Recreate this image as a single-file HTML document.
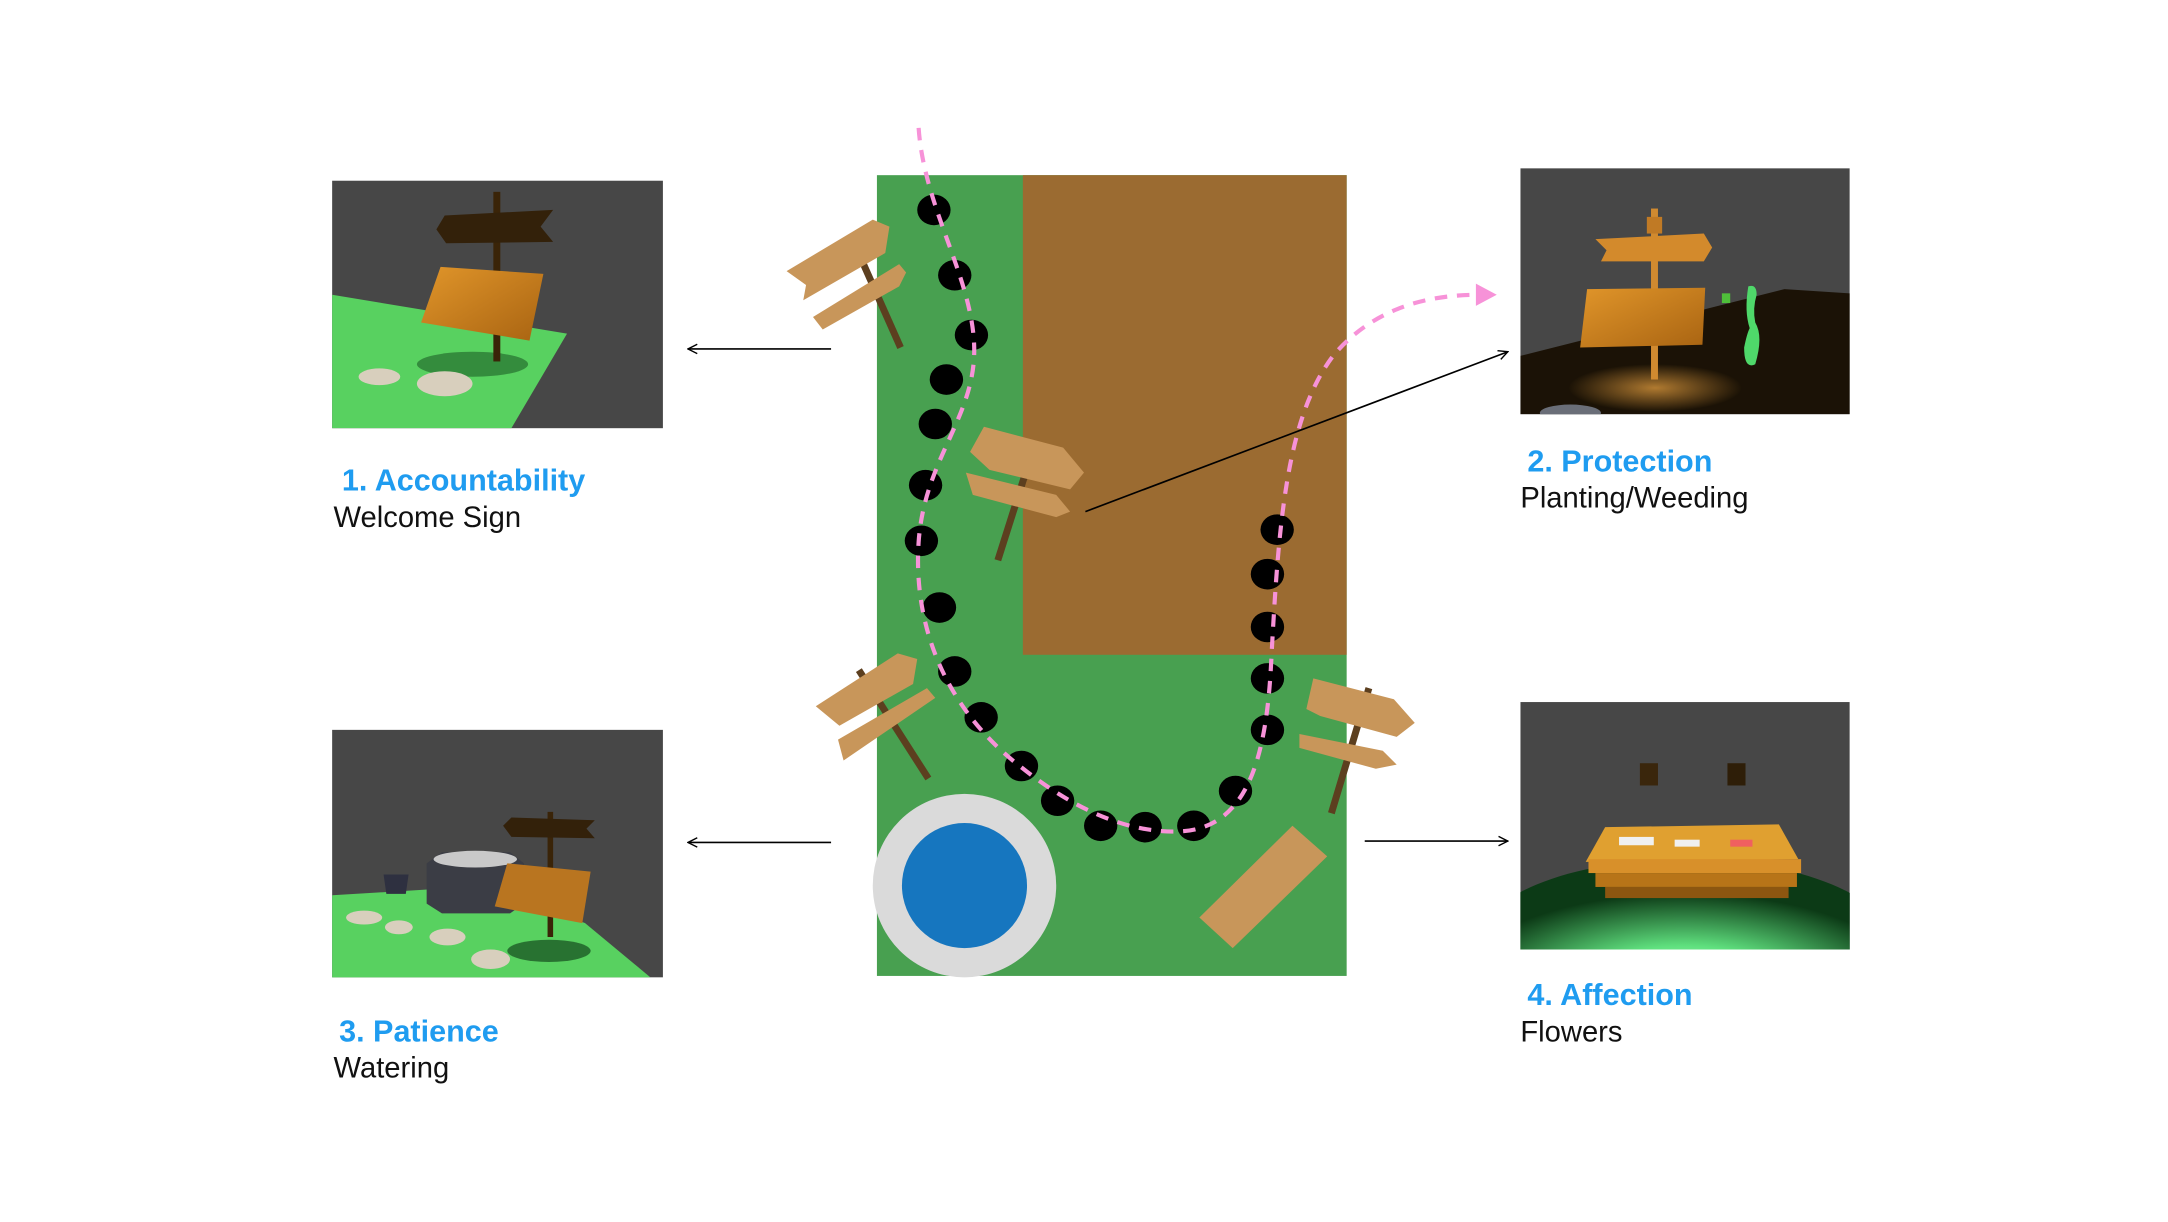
<!DOCTYPE html>
<html><head><meta charset="utf-8"><style>
html,body{margin:0;padding:0;background:#fff}
svg{display:block}
text{font-family:"Liberation Sans",sans-serif}
.t{fill:#1f9cf0;font-weight:bold;font-size:22px}
.s{fill:#111;font-size:21px}
</style></head><body>
<svg width="2168" height="1222" viewBox="0 0 1560 879" preserveAspectRatio="none" xmlns="http://www.w3.org/2000/svg">
<defs>
<marker id="ah" viewBox="0 0 10 10" refX="9" refY="5" markerWidth="7" markerHeight="7" orient="auto"><path d="M1,1 L9,5 L1,9" fill="none" stroke="#000" stroke-width="1.2"/></marker>
<radialGradient id="spot" cx="0.5" cy="0.5" r="0.5"><stop offset="0" stop-color="#b07a30"/><stop offset="1" stop-color="#1c1306"/></radialGradient>
<radialGradient id="glow" cx="0.5" cy="0.75" r="0.55"><stop offset="0" stop-color="#d8ffe4"/><stop offset="0.45" stop-color="#5fe07e"/><stop offset="1" stop-color="#0c3a16"/></radialGradient>
<linearGradient id="board" x1="0" y1="0" x2="1" y2="1"><stop offset="0" stop-color="#e0952a"/><stop offset="1" stop-color="#a96412"/></linearGradient>
<clipPath id="c4"><rect x="1094" y="505" width="237" height="178"/></clipPath>
<clipPath id="c2"><rect x="1094" y="121" width="237" height="177"/></clipPath>
</defs>

<g>
<rect x="239" y="130" width="238" height="178" fill="#474747"/>
<polygon points="239,212 408,240 368,308 239,308" fill="#58d160"/>
<ellipse cx="340" cy="262" rx="40" ry="9" fill="#2c7a35" opacity="0.8"/>
<rect x="355" y="138" width="5" height="122" fill="#3a2408"/>
<polygon points="314,165 320,155 398,151 389,163 398,174 321,175" fill="#33210a"/>
<polygon points="317,192 391,197 381,245 303,232" fill="url(#board)"/>
<ellipse cx="273" cy="271" rx="15" ry="6" fill="#d8cfbd"/>
<ellipse cx="320" cy="276" rx="20" ry="9" fill="#d8cfbd"/>
</g>
<text class="t" x="246" y="353">1. Accountability</text>
<text class="s" x="240" y="379">Welcome Sign</text>

<g>
<rect x="239" y="525" width="238" height="178" fill="#474747"/>
<polygon points="239,644 354,637 421,664 468,703 239,703" fill="#58d160"/>
<polygon points="307,621 318,613 367,613 377,621 377,650 367,657 318,657 307,650" fill="#3b3d45"/>
<ellipse cx="342" cy="618" rx="30" ry="6" fill="#c9c9c9"/>
<polygon points="276,629 294,629 292,643 278,643" fill="#2e3040"/>
<rect x="394" y="584" width="4" height="90" fill="#3a2408"/>
<polygon points="362,594 368,588 428,590 422,596 428,603 368,602" fill="#33210a"/>
<polygon points="365,621 425,627 419,664 356,652" fill="#b97520"/>
<ellipse cx="395" cy="684" rx="30" ry="8" fill="#1d5a25" opacity="0.8"/>
<ellipse cx="262" cy="660" rx="13" ry="5" fill="#d8cfbd"/>
<ellipse cx="287" cy="667" rx="10" ry="5" fill="#d8cfbd"/>
<ellipse cx="322" cy="674" rx="13" ry="6" fill="#d8cfbd"/>
<ellipse cx="353" cy="690" rx="14" ry="7" fill="#d8cfbd"/>
</g>
<text class="t" x="244" y="749">3. Patience</text>
<text class="s" x="240" y="775">Watering</text>

<g clip-path="url(#c2)">
<rect x="1094" y="121" width="237" height="177" fill="#474747"/>
<polygon points="1094,256 1284,208 1331,211 1331,298 1094,298" fill="#1b1206"/>
<ellipse cx="1191" cy="279" rx="62" ry="17" fill="url(#spot)"/>
<ellipse cx="1130" cy="297" rx="22" ry="6" fill="#6a6e78"/>
<rect x="1188" y="150" width="5" height="123" fill="#d08a30"/>
<rect x="1185" y="156" width="11" height="12" fill="#c07a25"/>
<polygon points="1148,172 1226,168 1232,178 1226,188 1152,188 1156,180" fill="#d38a2c"/>
<polygon points="1142,208 1227,207 1225,248 1137,250" fill="url(#board)"/>
<rect x="1239" y="211" width="6" height="7" fill="#4fbf3a"/>
<path d="M1258,206 q6,-2 6,6 q-3,10 -1,20 q6,10 0,30 q-8,4 -8,-12 q2,-10 4,-14 q-4,-12 -1,-30z" fill="#4fd86a"/>
</g>
<text class="t" x="1099" y="339">2. Protection</text>
<text class="s" x="1094" y="365">Planting/Weeding</text>

<g clip-path="url(#c4)">
<rect x="1094" y="505" width="237" height="178" fill="#474747"/>
<ellipse cx="1212" cy="680" rx="150" ry="62" fill="url(#glow)"/>
<rect x="1180" y="549" width="13" height="16" fill="#3a260c"/>
<rect x="1243" y="549" width="13" height="16" fill="#2e1e08"/>
<polygon points="1155,595 1280,593 1294,618 1141,620" fill="#e0a030"/>
<rect x="1143" y="618" width="153" height="10" fill="#d8902a"/>
<rect x="1148" y="628" width="145" height="10" fill="#b77418"/>
<rect x="1155" y="638" width="132" height="8" fill="#8c5610"/>
<rect x="1165" y="602" width="25" height="6" fill="#f0f0f0"/>
<rect x="1205" y="604" width="18" height="5" fill="#f0f0f0"/>
<rect x="1245" y="604" width="16" height="5" fill="#f06060"/>
</g>
<text class="t" x="1099" y="723">4. Affection</text>
<text class="s" x="1094" y="749">Flowers</text>

<g>
<rect x="631" y="126" width="338" height="576" fill="#48a050"/>
<rect x="736" y="126" width="233" height="345" fill="#9b6b31"/>
<circle cx="694" cy="637" r="66" fill="#dadada"/>
<circle cx="694" cy="637" r="45" fill="#1676bf"/>
<polygon points="863,660 930,594 955,616 887,682" fill="#c8965a"/>
</g>
<g fill="#c8965a">
<line x1="616" y1="178" x2="648" y2="250" stroke="#5c3f1f" stroke-width="5"/>
<polygon points="566,195 628,158 640,163 637,182 578,216 580,205"/>
<polygon points="585,228 647,190 652,196 647,206 592,237"/>
<line x1="745" y1="318" x2="718" y2="403" stroke="#5c3f1f" stroke-width="5"/>
<polygon points="708,307 765,322 780,340 770,352 712,338 698,325"/>
<polygon points="695,340 760,356 770,368 760,372 700,356"/>
<line x1="618" y1="482" x2="668" y2="560" stroke="#5c3f1f" stroke-width="5"/>
<polygon points="587,508 646,470 660,474 657,492 604,522"/>
<polygon points="603,532 667,495 673,502 607,547"/>
<line x1="985" y1="495" x2="958" y2="585" stroke="#5c3f1f" stroke-width="5"/>
<polygon points="945,488 1003,503 1018,520 1005,530 950,515 940,510"/>
<polygon points="935,528 995,540 1005,550 990,553 935,538"/>
</g>
<g fill="#000">
<ellipse cx="672" cy="151" rx="12" ry="11"/><ellipse cx="687" cy="198" rx="12" ry="11"/>
<ellipse cx="699" cy="241" rx="12" ry="11"/><ellipse cx="681" cy="273" rx="12" ry="11"/>
<ellipse cx="673" cy="305" rx="12" ry="11"/><ellipse cx="666" cy="349" rx="12" ry="11"/>
<ellipse cx="663" cy="389" rx="12" ry="11"/><ellipse cx="676" cy="437" rx="12" ry="11"/>
<ellipse cx="687" cy="483" rx="12" ry="11"/><ellipse cx="706" cy="516" rx="12" ry="11"/>
<ellipse cx="735" cy="551" rx="12" ry="11"/><ellipse cx="761" cy="576" rx="12" ry="11"/>
<ellipse cx="792" cy="594" rx="12" ry="11"/><ellipse cx="824" cy="595" rx="12" ry="11"/>
<ellipse cx="859" cy="594" rx="12" ry="11"/><ellipse cx="889" cy="569" rx="12" ry="11"/>
<ellipse cx="912" cy="525" rx="12" ry="11"/><ellipse cx="912" cy="488" rx="12" ry="11"/>
<ellipse cx="912" cy="451" rx="12" ry="11"/><ellipse cx="912" cy="413" rx="12" ry="11"/>
<ellipse cx="919" cy="381" rx="12" ry="11"/>
</g>
<path d="M661,92 C665,150 700,200 701,250 C702,300 665,330 661,390 C657,450 680,510 735,552 C770,580 810,600 850,598 C900,595 912,540 915,470 C920,380 925,300 960,255 C990,220 1030,212 1065,212" fill="none" stroke="#f792d8" stroke-width="3" stroke-dasharray="9 7"/>
<polygon points="1062,204 1077,212 1062,220" fill="#f792d8"/>

<line x1="598" y1="251" x2="495" y2="251" stroke="#000" stroke-width="1.2" marker-end="url(#ah)"/>
<line x1="598" y1="606" x2="495" y2="606" stroke="#000" stroke-width="1.2" marker-end="url(#ah)"/>
<line x1="982" y1="605" x2="1085" y2="605" stroke="#000" stroke-width="1.2" marker-end="url(#ah)"/>
<line x1="781" y1="368" x2="1085" y2="253" stroke="#000" stroke-width="1.2" marker-end="url(#ah)"/>
</svg>
</body></html>
